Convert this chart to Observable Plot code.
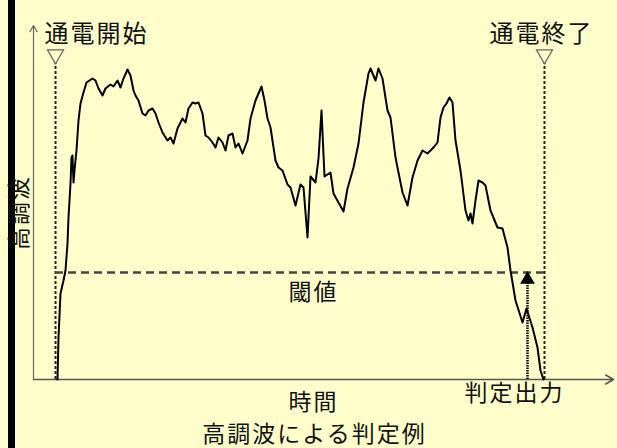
<!DOCTYPE html>
<html>
<head>
<meta charset="utf-8">
<script src="https://cdn.jsdelivr.net/npm/d3@7"></script>
<script src="https://cdn.jsdelivr.net/npm/@observablehq/plot@0.6"></script>
<style>
  html, body { margin: 0; padding: 0; background: #FFFFCC; }
  #wrap { position: relative; width: 617px; height: 448px; overflow: hidden; }
  #bar { position: absolute; left: 8px; top: 0; width: 7px; height: 448px; background: #000; }
  #chart { position: absolute; left: 0; top: 0; }
  svg { background: transparent !important; }
  svg text { letter-spacing: 2px; }
</style>
</head>
<body>
<div id="wrap"><div id="bar"></div><div id="chart"></div></div>
<script>
// Time (arbitrary units) and harmonic level (arbitrary units)
const time = [24,25,27,30,32,34,35,37,38,39,40,41,43,45,47,50,53,56,59,62,65,69,72,77,80,84,87,90,94,97,100,102,105,109,112,115,119,122,125,129,134,137,140,144,149,152,155,159,162,165,169,172,175,179,182,185,189,192,195,199,202,205,209,214,217,222,225,228,231,234,237,242,245,249,254,257,262,267,270,274,277,282,285,288,291,297,300,305,310,314,320,325,330,335,337,342,345,349,354,357,362,369,374,379,384,389,394,400,404,407,410,413,416,419,422,427,432,435,437,439,442,445,449,452,457,464,469,474,477,482,489,493,499,504,507,510];
const harmonic = [0,42,86,99,109,136,162,196,222,224,197,209,229,259,276,287,297,299,301,299,291,284,291,295,293,299,292,301,310,304,289,284,279,266,264,269,271,266,257,247,239,242,236,251,261,257,271,277,276,277,266,244,242,237,232,242,237,229,244,246,232,236,226,239,261,279,286,293,279,261,252,219,212,209,195,192,174,195,192,142,203,197,221,269,203,207,186,177,168,191,212,236,277,306,311,299,311,301,269,262,222,187,174,202,219,229,226,232,237,262,272,276,282,277,239,209,169,159,166,156,179,199,197,194,169,152,151,132,109,79,57,71,52,32,9,0];

const threshold = 107;
const eventNames = ["通電開始", "通電終了"];
const eventTimes = [22, 511];
const eventLabelTimes = [63, 508];
const judgeTime = 494;
const timeMax = 580;
const levelMax = 354;

const series = time.map((t, i) => ({t, a: harmonic[i]}));
const events = eventNames.map((name, i) => ({name, t: eventTimes[i], lt: eventLabelTimes[i]}));

const font = "'Noto Sans CJK JP', 'Noto Sans', sans-serif";
const labels = [
  {text: "閾値", t: 280, a: 87},
  {text: "判定出力", t: 481, a: -14},
  {text: "時間", t: 280, a: -23},
  {text: "高調波による判定例", t: 281, a: -55}
];

const chart = Plot.plot({
  width: 617,
  height: 448,
  marginLeft: 33,
  marginRight: 4,
  marginTop: 25,
  marginBottom: 69,
  style: {background: "transparent", fontFamily: font},
  x: {domain: [0, timeMax], axis: null},
  y: {domain: [0, levelMax], axis: null},
  marks: [
    // axes with arrows
    Plot.arrow([{x1: 0, y1: 0, x2: 0, y2: levelMax}], {x1: "x1", y1: "y1", x2: "x2", y2: "y2", stroke: "#666", strokeWidth: 1.2, headLength: 9}),
    Plot.arrow([{x1: 0, y1: 0, x2: timeMax, y2: 0}], {x1: "x1", y1: "y1", x2: "x2", y2: "y2", stroke: "#555", strokeWidth: 1.5, headLength: 9}),
    // event dashed verticals
    Plot.ruleX(events, {x: "t", y1: 0, y2: 317, stroke: "#222", strokeWidth: 2, strokeDasharray: "3,2"}),
    Plot.dot(events, {x: "t", y: 325, symbol: "triangle", rotate: 180, r: 6, stroke: "#666", fill: "#FFFFCC", strokeWidth: 1.2}),
    Plot.text(events, {x: "lt", y: 345, text: "name", fontSize: 24, fill: "#111", fontFamily: font}),
    // threshold
    Plot.ruleY([{a: threshold}], {y: "a", x1: eventTimes[0], x2: eventTimes[1], stroke: "#444", strokeWidth: 2.5, strokeDasharray: "8,5"}),
    // judgement output arrow
    Plot.ruleX([{t: judgeTime}], {x: "t", y1: 0, y2: threshold - 8, stroke: "#000", strokeWidth: 2.5, strokeDasharray: "1.5,1"}),
    Plot.dot([{t: judgeTime}], {x: "t", y: threshold - 7, symbol: "triangle", r: 4.5, fill: "#000", stroke: "#000"}),
    // harmonic curve
    Plot.line(series, {x: "t", y: "a", stroke: "#000", strokeWidth: 2}),
    // labels
    Plot.text(labels, {x: "t", y: "a", text: "text", fontSize: 23, fill: "#111", fontFamily: font}),
    Plot.text([{text: "高調波", t: -14, a: 167}], {x: "t", y: "a", text: "text", rotate: -90, fontSize: 23, fill: "#111", fontFamily: font})
  ]
});
document.getElementById("chart").appendChild(chart);
</script>
</body>
</html>
